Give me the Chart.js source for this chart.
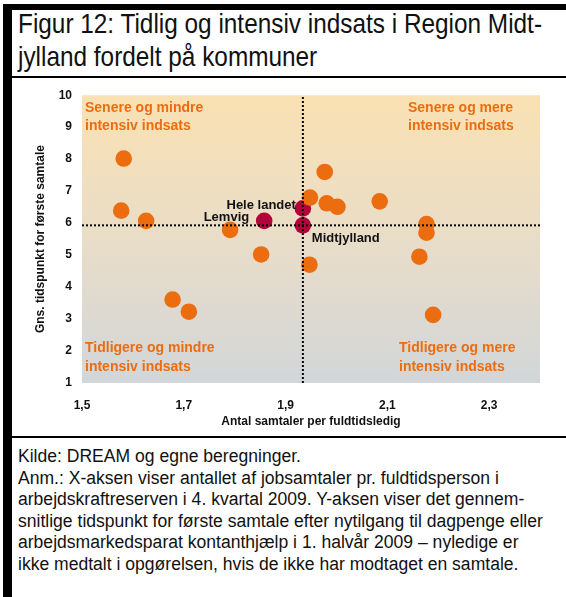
<!DOCTYPE html>
<html>
<head>
<meta charset="utf-8">
<script src="https://cdn.jsdelivr.net/npm/chart.js@4"></script>
<style>
body{margin:0;width:566px;height:597px;background:#fff;position:relative;overflow:hidden;}
.sort{position:absolute;background:#000;}
#titel{position:absolute;left:18px;top:7px;font-family:"Liberation Sans",Arial,sans-serif;font-size:28px;line-height:33px;color:#111;white-space:nowrap;transform:scaleX(0.87);transform-origin:0 0;}
#noter{position:absolute;left:18px;top:446px;font-family:"Liberation Sans",Arial,sans-serif;font-size:18px;line-height:21.6px;color:#111;white-space:nowrap;transform:scaleX(0.975);transform-origin:0 0;}
#graf_boks{position:absolute;left:12px;top:78px;width:554px;height:358px;}
</style>
</head>
<body>
<div class="sort" style="left:3px;top:4px;width:9px;height:593px;"></div>
<div class="sort" style="left:3px;top:4px;width:563px;height:6px;"></div>
<div class="sort" style="left:12px;top:76px;width:554px;height:2px;"></div>
<div class="sort" style="left:12px;top:436px;width:554px;height:2px;"></div>
<div id="titel">Figur 12: Tidlig og intensiv indsats i Region Midt-<br>jylland fordelt på kommuner</div>
<div id="graf_boks"><canvas id="graf_tidlig_intensiv"></canvas></div>
<div id="noter">Kilde: DREAM og egne beregninger.<br>Anm.: X-aksen viser antallet af jobsamtaler pr. fuldtidsperson i<br>arbejdskraftreserven i 4. kvartal 2009. Y-aksen viser det gennem-<br>snitlige tidspunkt for første samtale efter nytilgang til dagpenge eller<br>arbejdsmarkedsparat kontanthjælp i 1. halvår 2009 – nyledige er<br>ikke medtalt i opgørelsen, hvis de ikke har modtaget en samtale.</div>
<script>
// kommuner i Region Midtjylland
var kommuner_x = [1.582, 1.577, 1.626, 1.791, 1.852, 1.948, 1.977, 1.981, 2.002, 2.085, 2.177, 2.177, 2.163, 2.190, 1.947, 1.678, 1.710];
var kommuner_y = [8.02, 6.39, 6.07, 5.79, 5.02, 6.80, 7.60, 6.62, 6.51, 6.68, 5.97, 5.70, 4.95, 3.13, 4.70, 3.61, 3.23];
// fremhævede punkter
var fremhaevet_navne = ["Hele landet", "Lemvig", "Midtjylland"];
var fremhaevet_x = [1.934, 1.858, 1.934];
var fremhaevet_y = [6.46, 6.07, 5.93];
// akser
var x_ticks = [1.5, 1.7, 1.9, 2.1, 2.3];
var x_min = 1.5, x_max = 2.4;
var y_min = 1, y_max = 10;
var kvadrant_tekster = [
	["Senere og mindre", "intensiv indsats"],
	["Senere og mere", "intensiv indsats"],
	["Tidligere og mindre", "intensiv indsats"],
	["Tidligere og mere", "intensiv indsats"]
];

var orange = "#EC6C10";
var roed = "#B0043A";

function punkter(xs, ys){
	var ud = [];
	for(var i=0;i<xs.length;i++){ ud.push({x:xs[i], y:ys[i]}); }
	return ud;
}
// Midtjylland bestemmer krydset
var midt_x = fremhaevet_x[2];
var midt_y = fremhaevet_y[2];

var baggrund_plugin = {
	id: "baggrund",
	beforeDatasetsDraw: function(chart){
		var a = chart.chartArea, ctx = chart.ctx;
		var g = ctx.createLinearGradient(0, a.top, 0, a.bottom);
		g.addColorStop(0, "#FAE1B2");
		g.addColorStop(0.5, "#E9DDC8");
		g.addColorStop(1, "#D2D6D9");
		ctx.save();
		ctx.fillStyle = g;
		ctx.fillRect(a.left, a.top, a.right - a.left, a.bottom - a.top);
		ctx.restore();
	}
};

var tekst_plugin = {
	id: "tekster",
	afterDatasetsDraw: function(chart){
		var a = chart.chartArea, ctx = chart.ctx;
		ctx.save();
		ctx.font = "bold 14px 'Liberation Sans', Arial, sans-serif";
		ctx.fillStyle = orange;
		ctx.textBaseline = "middle";
		ctx.textAlign = "left";
		ctx.fillText(kvadrant_tekster[0][0], a.left + 3, a.top + 13);
		ctx.fillText(kvadrant_tekster[0][1], a.left + 3, a.top + 31);
		ctx.fillText(kvadrant_tekster[1][0], a.right - 132, a.top + 13);
		ctx.fillText(kvadrant_tekster[1][1], a.right - 132, a.top + 31);
		ctx.fillText(kvadrant_tekster[2][0], a.left + 3, a.bottom - 35);
		ctx.fillText(kvadrant_tekster[2][1], a.left + 3, a.bottom - 16);
		ctx.fillText(kvadrant_tekster[3][0], a.right - 141, a.bottom - 35);
		ctx.fillText(kvadrant_tekster[3][1], a.right - 141, a.bottom - 16);

		var meta = chart.getDatasetMeta(3);
		ctx.font = "bold 13px 'Liberation Sans', Arial, sans-serif";
		ctx.fillStyle = "#111";
		var p0 = meta.data[0], p1 = meta.data[1], p2 = meta.data[2];
		ctx.textAlign = "right";
		ctx.fillText(fremhaevet_navne[0], p0.x - 7, p0.y - 3);
		ctx.fillText(fremhaevet_navne[1], p1.x - 15, p1.y - 3);
		ctx.textAlign = "left";
		ctx.fillText(fremhaevet_navne[2], p2.x + 9, p2.y + 13);
		ctx.restore();
	}
};

Chart.defaults.font.family = "'Liberation Sans', Arial, sans-serif";
Chart.defaults.color = "#111";

new Chart(document.getElementById("graf_tidlig_intensiv"), {
	type: "scatter",
	data: {
		datasets: [{
			label: "lodret",
			data: [{x:midt_x, y:y_min}, {x:midt_x, y:y_max}],
			showLine: true,
			borderColor: "#000",
			borderWidth: 2,
			borderDash: [2, 2],
			pointRadius: 0
		},{
			label: "vandret",
			data: [{x:x_min, y:midt_y}, {x:x_max, y:midt_y}],
			showLine: true,
			borderColor: "#000",
			borderWidth: 2,
			borderDash: [2, 2],
			pointRadius: 0
		},{
			label: "Kommuner",
			data: punkter(kommuner_x, kommuner_y),
			backgroundColor: orange,
			borderWidth: 0,
			pointRadius: 8.3
		},{
			label: "Fremhævet",
			data: punkter(fremhaevet_x, fremhaevet_y),
			backgroundColor: roed,
			borderWidth: 0,
			pointRadius: 8.3
		}]
	},
	options: {
		responsive: true,
		maintainAspectRatio: false,
		animation: false,
		layout: { padding: { left: 0, right: 26, top: 14, bottom: 0 } },
		plugins: {
			legend: { display: false },
			tooltip: { enabled: false }
		},
		scales: {
			x: {
				type: "linear",
				min: x_min,
				max: x_max,
				grid: { display: false, drawTicks: false },
				border: { display: false },
				afterBuildTicks: function(scale){
					scale.ticks = x_ticks.map(function(v){ return {value: v}; });
				},
				afterFit: function(scale){ scale.height = 53; },
				ticks: {
					padding: 15,
					font: { size: 12, weight: "bold" },
					callback: function(v){ return v.toFixed(1).replace(".", ","); }
				},
				title: {
					display: true,
					text: "Antal samtaler per fuldtidsledig",
					font: { size: 12, weight: "bold" },
					padding: { top: 0, bottom: 7 }
				}
			},
			y: {
				type: "linear",
				min: y_min,
				max: y_max,
				grid: { display: false, drawTicks: false },
				border: { display: false },
				afterFit: function(scale){ scale.width = 70; },
				ticks: {
					stepSize: 1,
					padding: 10,
					font: { size: 12, weight: "bold" }
				},
				title: {
					display: true,
					text: "Gns. tidspunkt for første samtale",
					font: { size: 12, weight: "bold" },
					padding: { top: 21, bottom: 0 }
				}
			}
		}
	},
	plugins: [baggrund_plugin, tekst_plugin]
});
</script>
</body>
</html>
